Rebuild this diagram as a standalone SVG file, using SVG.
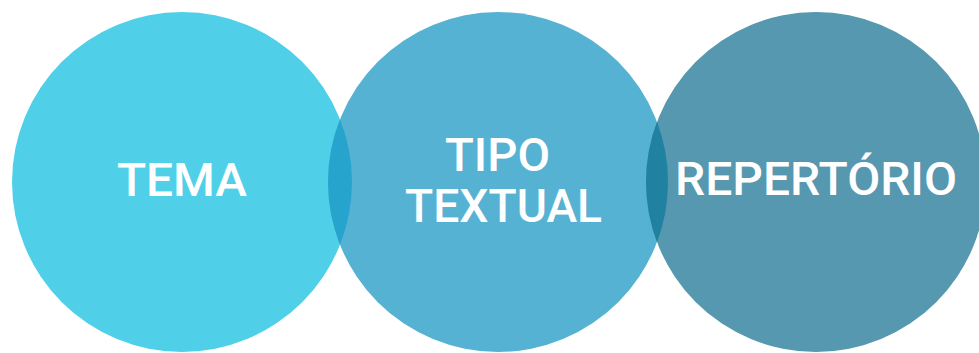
<svg xmlns="http://www.w3.org/2000/svg" width="979" height="353" viewBox="0 0 979 353">
<style>
.lbl{font-family:Roboto,"Liberation Sans",sans-serif;font-weight:500;font-size:47px;fill:#ffffff;text-anchor:middle}
</style>
<rect width="979" height="353" fill="#ffffff"/>
<g id="tema">
<circle cx="182" cy="182" r="170" fill="#50d0e8"/>
</g>
<g id="tipo-textual">
<circle cx="498" cy="182" r="170" fill="#56b2d3"/>
</g>
<g id="repertorio">
<circle cx="816" cy="182" r="170" fill="#5598b0"/>
</g>
<g id="overlaps">
<path d="M340,119.3 A170,170 0 0,0 340,244.7 A170,170 0 0,0 340,119.3 Z" fill="#27a4cd"/>
<path d="M657,121.8 A170,170 0 0,0 657,242.2 A170,170 0 0,0 657,121.8 Z" fill="#2181a0"/>
</g>
<g id="labels">
<text class="lbl" x="182" y="196" textLength="130" lengthAdjust="spacingAndGlyphs">TEMA</text>
<text class="lbl" x="497.5" y="171" textLength="105" lengthAdjust="spacingAndGlyphs">TIPO</text>
<text class="lbl" x="503.5" y="222" textLength="197" lengthAdjust="spacingAndGlyphs">TEXTUAL</text>
<text class="lbl" x="816" y="195" textLength="282" lengthAdjust="spacingAndGlyphs">REPERTÓRIO</text>
</g>
</svg>
